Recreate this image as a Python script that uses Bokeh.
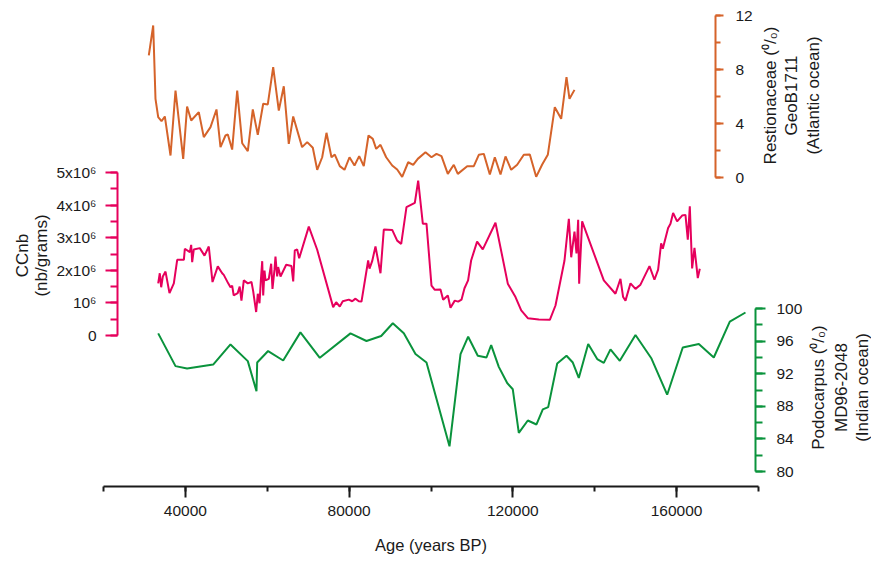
import math
from bokeh.plotting import figure
from bokeh.models import (LinearAxis, Range1d, SingleIntervalTicker, Label,
                          BasicTickFormatter)
from bokeh.embed import file_html
from bokeh.resources import INLINE

# ---------------- data ----------------
restio_age = [31070, 32140, 32700, 33360, 34170, 34980, 36370, 37590, 39470, 40420,
              41420, 43280, 44500, 46140, 47600, 48580, 49800, 50370, 51430, 52660,
              53880, 55250, 56470, 57690, 59010, 60130, 61450, 62820, 64040, 65260,
              66340, 68510, 69760, 71130, 72200, 73420, 74470, 75690, 76500, 77720,
              78870, 80090, 81310, 82460, 83580, 84730, 85780, 86610, 87660, 89050,
              90520, 91740, 92960, 94430, 95650, 96770, 98650, 100120, 101340, 102560,
              104110, 105570, 106550, 108840, 110460, 111680, 112900, 114370, 115590, 116980,
              118200, 119590, 121050, 122670, 124140, 125690, 127160, 128530, 130240, 131800,
              133100, 133830, 135050]
restio_pct = [9.04, 11.26, 5.83, 4.47, 4.17, 4.52, 1.63, 6.44, 1.38, 5.26,
              4.22, 4.84, 2.99, 3.73, 5.04, 2.25, 3.11, 3.19, 2.07, 6.44,
              2.54, 1.95, 5.04, 3.16, 5.46, 5.41, 8.17, 4.96, 6.76, 2.49,
              4.52, 2.25, 2.62, 2.20, 0.57, 1.50, 3.31, 1.50, 1.70, 0.84,
              0.57, 1.50, 0.89, 1.58, 0.84, 3.11, 2.86, 2.12, 2.42, 1.50,
              0.89, 0.59, 0.05, 1.13, 0.94, 1.38, 1.87, 1.50, 1.75, 1.58,
              0.27, 0.94, 0.27, 0.84, 0.84, 1.68, 1.75, 0.22, 1.50, 0.22,
              1.56, 0.57, 0.94, 1.68, 1.70, 0.05, 0.96, 1.68, 5.21, 4.35,
              7.43, 5.83, 6.49]

ccnb_age = [33360, 33750, 34090, 34490, 35150, 36120, 37180, 38000, 39630, 39870,
            41090, 41420, 41660, 42060, 43520, 44670, 45720, 46630, 47920, 48990,
            49380, 50460, 51020, 51430, 51800, 52780, 53270, 53700, 54270, 55250,
            56150, 56560, 57290, 57690, 58110, 58440, 58770, 59010, 59330, 59570,
            60380, 60960, 61280, 61770, 62010, 62420, 62660, 63240, 64630, 65920,
            66340, 66730, 67310, 67800, 70150, 72200, 76100, 76830, 77720, 78450,
            79920, 80740, 81560, 82360, 83020, 84650, 84980, 85630, 86440, 87660,
            88470, 90520, 91740, 92720, 94010, 96050, 96870, 98000, 98900, 100120,
            100930, 102320, 102970, 104110, 104760, 105810, 106630, 107450, 108180, 109060,
            109800, 111260, 112650, 115750, 118760, 120640, 122040, 123650, 126340, 129030,
            130410, 132610, 133670, 134250, 135050, 135540, 135950, 136190, 136920, 142210,
            145060, 146280, 146930, 147510, 148730, 149950, 151170, 153370, 154580, 155480,
            156220, 156620, 157920, 158500, 159140, 160120, 161340, 162160, 162730, 163220,
            163790, 164360, 165170, 165660]
ccnb_val = [1.60e6, 1.91e6, 1.48e6, 1.81e6, 1.96e6, 1.30e6, 1.60e6, 2.32e6, 2.32e6, 2.66e6,
            2.56e6, 2.78e6, 2.25e6, 2.64e6, 2.68e6, 2.45e6, 2.73e6, 1.64e6, 2.12e6, 1.91e6,
            1.86e6, 1.60e6, 1.48e6, 1.53e6, 1.23e6, 1.30e6, 1.50e6, 1.07e6, 1.69e6, 1.60e6,
            1.64e6, 1.36e6, 0.72e6, 1.28e6, 0.99e6, 1.69e6, 2.28e6, 1.23e6, 1.99e6, 1.69e6,
            1.74e6, 2.20e6, 1.43e6, 2.02e6, 2.42e6, 1.81e6, 2.10e6, 1.81e6, 2.17e6, 2.13e6,
            1.66e6, 2.61e6, 2.64e6, 2.37e6, 3.34e6, 2.63e6, 0.87e6, 1.02e6, 0.89e6, 1.05e6,
            1.10e6, 1.05e6, 1.13e6, 1.05e6, 1.04e6, 2.30e6, 2.05e6, 2.28e6, 2.73e6, 1.91e6,
            3.25e6, 3.24e6, 2.91e6, 2.81e6, 3.94e6, 4.07e6, 4.75e6, 3.43e6, 3.43e6, 1.53e6,
            1.40e6, 1.41e6, 1.10e6, 1.23e6, 0.85e6, 1.07e6, 1.04e6, 1.10e6, 1.45e6, 1.69e6,
            2.30e6, 2.88e6, 2.64e6, 3.46e6, 1.59e6, 1.18e6, 0.77e6, 0.53e6, 0.49e6, 0.48e6,
            0.92e6, 2.30e6, 3.58e6, 2.40e6, 3.19e6, 2.52e6, 3.55e6, 1.59e6, 3.50e6, 1.69e6,
            1.28e6, 1.74e6, 1.18e6, 1.07e6, 1.60e6, 1.43e6, 1.56e6, 2.13e6, 1.71e6, 2.02e6,
            2.83e6, 2.66e6, 3.30e6, 3.43e6, 3.76e6, 3.50e6, 3.68e6, 3.70e6, 2.94e6, 3.96e6,
            2.06e6, 2.69e6, 1.76e6, 2.05e6]

podo_age = [33360, 37590, 40420, 46790, 51020, 55250, 57370, 57540, 60210, 63890,
            68100, 72840, 80330, 84240, 87830, 90670, 93360, 96210, 98900, 104520,
            107210, 109080, 111430, 113550, 114700, 116560, 118610, 119980, 121450, 123650,
            125770, 127310, 128630, 130830, 133100, 134640, 136100, 138400, 140600, 142210,
            143840, 146120, 149950, 153860, 157690, 161500, 165420, 169080, 172990, 176820]
podo_pct = [96.95, 92.93, 92.63, 93.12, 95.59, 93.54, 89.84, 93.37, 94.78, 93.62,
            97.07, 93.95, 96.95, 96.01, 96.63, 98.19, 96.95, 94.41, 93.37, 83.09,
            94.41, 96.54, 94.20, 93.99, 95.51, 92.84, 90.86, 90.09, 84.73, 86.26,
            85.77, 87.62, 87.90, 93.25, 94.20, 93.37, 91.48, 95.64, 93.79, 93.33,
            94.98, 93.58, 96.75, 93.86, 89.42, 95.22, 95.64, 93.99, 98.40, 99.51]

ccnb_labels = {0: "0", 1000000: "10\u2076", 2000000: "2x10\u2076", 3000000: "3x10\u2076",
               4000000: "4x10\u2076", 5000000: "5x10\u2076"}

x_title = "Age (years BP)"
restio_title = ["Restionaceae (\u2070/\u2080)", "GeoB1711", "(Atlantic ocean)"]
ccnb_title = ["CCnb", "(nb/grams)"]
podo_title = ["Podocarpus (\u2070/\u2080)", "MD96-2048", "(Indian ocean)"]

# ---------------- layout (pixels) ----------------
W, H = 871, 561
AX_L, AX_R = 103, 758          # screen columns of 20000 and 180000 yrs
X0, X1 = 20000, 180000

ORANGE = "#D5632A"
PINK = "#E6005C"
GREEN = "#0A933C"
FONT = "Liberation Sans"
TICK_FS = "15.5px"
TITLE_FS = "17px"


def px_to_x(px):
    return X0 + (px - AX_L) * (X1 - X0) / (AX_R - AX_L)


def band(va, pya, vb, pyb):
    """Range (over the full canvas height) whose values va/vb land at rows pya/pyb."""
    s = (vb - va) / (pyb - pya)
    return Range1d(start=va + (H - pya) * s, end=va + (0 - pya) * s)


p = figure(width=W, height=H, output_backend="svg", toolbar_location=None,
           x_axis_type=None, y_axis_type=None,
           x_range=Range1d(px_to_x(0), px_to_x(W)), y_range=Range1d(H, 0),
           min_border_left=0, min_border_right=0,
           min_border_top=0, min_border_bottom=0)
p.outline_line_color = None
p.background_fill_color = "white"
p.border_fill_color = "white"

p.extra_y_ranges = {
    "restio": band(0, 177, 12, 15),
    "ccnb": band(0, 335, 5e6, 172),
    "podo": band(80, 471, 100, 308),
}
p.extra_x_ranges = {"px": Range1d(0, W)}

p.line(restio_age, restio_pct, y_range_name="restio", line_color=ORANGE, line_width=2)
p.line(ccnb_age, ccnb_val, y_range_name="ccnb", line_color=PINK, line_width=2)
p.line(podo_age, podo_pct, y_range_name="podo", line_color=GREEN, line_width=2)


def style_axis(ax, color, tick_out, minor_out, standoff):
    ax.axis_line_color = color
    ax.axis_line_width = 2
    ax.major_tick_line_color = color
    ax.minor_tick_line_color = color
    ax.major_tick_line_width = 2
    ax.minor_tick_line_width = 2
    ax.major_tick_in = 0
    ax.minor_tick_in = 0
    ax.major_tick_out = tick_out
    ax.minor_tick_out = minor_out
    ax.major_label_standoff = standoff
    ax.major_label_text_font = FONT
    ax.major_label_text_font_size = TICK_FS
    ax.major_label_text_color = "#1a1a1a"


# bottom age axis
xax = LinearAxis(ticker=SingleIntervalTicker(interval=40000, num_minor_ticks=2),
                 formatter=BasicTickFormatter(use_scientific=False),
                 bounds=(X0, X1), fixed_location=486,
                 axis_label=x_title)
style_axis(xax, "#1a1a1a", 11, 5, 8)
xax.axis_label_text_font = FONT
xax.axis_label_text_font_size = "16.5px"
xax.axis_label_text_font_style = "normal"
xax.axis_label_text_color = "#1a1a1a"
xax.axis_label_standoff = 17
p.add_layout(xax, "below")

# Restionaceae axis (orange)
rax = LinearAxis(y_range_name="restio", bounds=(0, 12),
                 ticker=SingleIntervalTicker(interval=4, num_minor_ticks=2),
                 fixed_location=px_to_x(715))
style_axis(rax, ORANGE, 8, 5, 12)
p.add_layout(rax, "right")

# CCnb axis (pink)
cax = LinearAxis(y_range_name="ccnb", bounds=(0, 5e6),
                 ticker=SingleIntervalTicker(interval=1e6, num_minor_ticks=2),
                 major_label_overrides=ccnb_labels,
                 fixed_location=px_to_x(117))
style_axis(cax, PINK, 12, 7, 9)
p.add_layout(cax, "left")

# Podocarpus axis (green)
gax = LinearAxis(y_range_name="podo", bounds=(80, 100),
                 ticker=SingleIntervalTicker(interval=4, num_minor_ticks=2),
                 fixed_location=px_to_x(755))
style_axis(gax, GREEN, 10, 7, 11)
p.add_layout(gax, "right")


def vtitle(lines, xs, yc):
    for t, x in zip(lines, xs):
        p.add_layout(Label(x=x, y=yc, x_range_name="px", text=t, angle=math.pi / 2,
                           text_align="center", text_baseline="middle",
                           text_font=FONT, text_font_size=TITLE_FS,
                           text_color="#1a1a1a"))


vtitle(restio_title, [770, 791, 813], 95)
vtitle(ccnb_title, [22, 41], 255)
vtitle(podo_title, [818, 841, 862], 387)

open("out.html", "w").write(file_html(p, INLINE))
